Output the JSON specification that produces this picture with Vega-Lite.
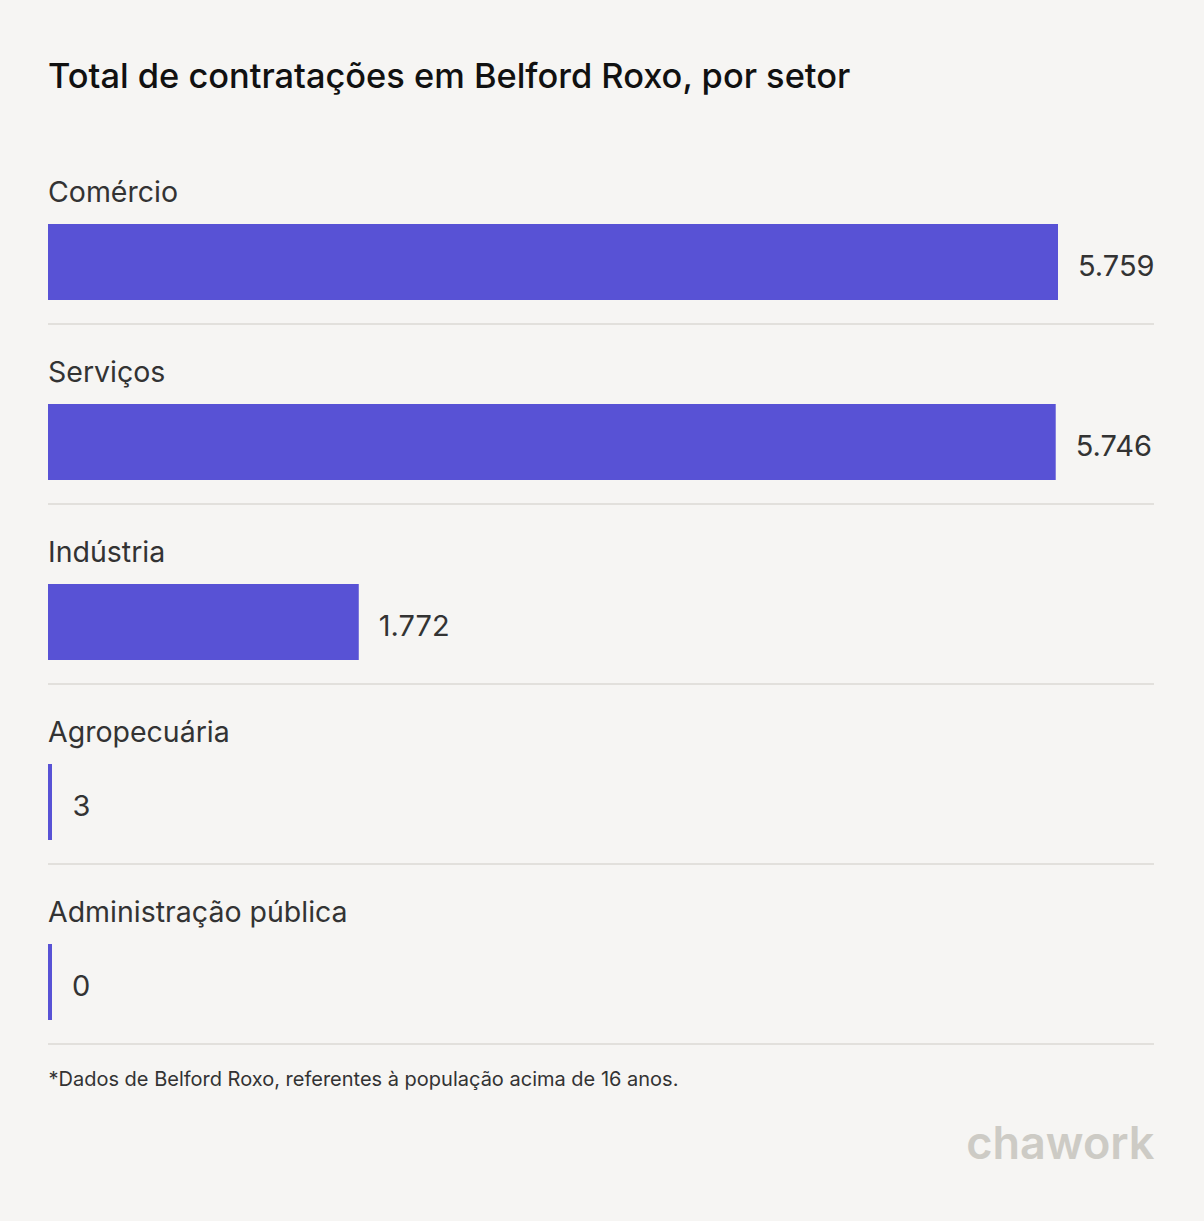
{
  "$schema": "https://vega.github.io/schema/vega-lite/v6.json",
  "width": 1106,
  "height": 900,
  "autosize": {"type": "none"},
  "padding": {"left": 48, "top": 144, "right": 50, "bottom": 177},
  "background": "#f6f5f3",
  "title": {
    "text": "Total de contratações em Belford Roxo, por setor",
    "anchor": "start",
    "frame": "group",
    "font": "Inter",
    "fontSize": 34.4,
    "fontWeight": 500,
    "color": "#111111",
    "baseline": "alphabetic",
    "offset": 22
  },
  "config": {
    "view": {"stroke": null},
    "font": "Inter"
  },
  "data": {
    "values": [
      {"setor": "Comércio", "valor": 5759, "rotulo": "5.759"},
      {"setor": "Serviços", "valor": 5746, "rotulo": "5.746"},
      {"setor": "Indústria", "valor": 1772, "rotulo": "1.772"},
      {"setor": "Agropecuária", "valor": 3, "rotulo": "3"},
      {"setor": "Administração pública", "valor": 0, "rotulo": "0"}
    ]
  },
  "encoding": {
    "y": {
      "field": "setor",
      "type": "nominal",
      "sort": null,
      "scale": {"paddingInner": 0, "paddingOuter": 0},
      "axis": {
        "orient": "right",
        "labels": false,
        "ticks": false,
        "domain": false,
        "grid": false,
        "title": "chawork",
        "titleAngle": 0,
        "titleAlign": "right",
        "titleAnchor": null,
        "titleBaseline": "alphabetic",
        "titleX": 0,
        "titleY": 1014,
        "titleFont": "Inter",
        "titleFontSize": 45,
        "titleFontWeight": 600,
        "titleColor": "#cdcbc5"
      }
    }
  },
  "layer": [
    {
      "mark": {"type": "rule", "color": "#e2e0dc", "strokeWidth": 2, "yOffset": 90},
      "encoding": {}
    },
    {
      "mark": {"type": "bar", "color": "#5852d5", "height": 76, "yOffset": 28},
      "encoding": {
        "x": {
          "field": "valor",
          "type": "quantitative",
          "scale": {"domain": [0, 6306.4], "nice": false, "zero": true},
          "axis": {
            "orient": "bottom",
            "labels": false,
            "ticks": false,
            "domain": false,
            "grid": false,
            "title": "*Dados de Belford Roxo, referentes à população acima de 16 anos.",
            "titleAnchor": "start",
            "titleAlign": "left",
            "titleBaseline": "alphabetic",
            "titleX": 0,
            "titleY": 41,
            "titleFont": "Inter",
            "titleFontSize": 20,
            "titleFontWeight": 400,
            "titleColor": "#333333"
          }
        }
      }
    },
    {
      "mark": {"type": "tick", "color": "#5852d5", "opacity": 1, "thickness": 4, "size": 76, "yOffset": 28, "xOffset": 2, "orient": "vertical"},
      "encoding": {
        "x": {"datum": 0, "type": "quantitative"}
      }
    },
    {
      "transform": [{"filter": "datum.valor >= 100"}],
      "mark": {"type": "text", "align": "left", "baseline": "alphabetic", "dx": 20, "yOffset": 42, "font": "Inter", "fontSize": 29, "color": "#333333"},
      "encoding": {
        "x": {"field": "valor", "type": "quantitative"},
        "text": {"field": "rotulo"}
      }
    },
    {
      "transform": [{"filter": "datum.valor < 100"}],
      "mark": {"type": "text", "align": "left", "baseline": "alphabetic", "dx": 24, "yOffset": 42, "font": "Inter", "fontSize": 29, "color": "#333333"},
      "encoding": {
        "x": {"field": "valor", "type": "quantitative"},
        "text": {"field": "rotulo"}
      }
    },
    {
      "mark": {"type": "text", "align": "left", "baseline": "alphabetic", "yOffset": -32, "font": "Inter", "fontSize": 28.5, "color": "#333333"},
      "encoding": {
        "x": {"datum": 0, "type": "quantitative"},
        "text": {"field": "setor"}
      }
    }
  ]
}
